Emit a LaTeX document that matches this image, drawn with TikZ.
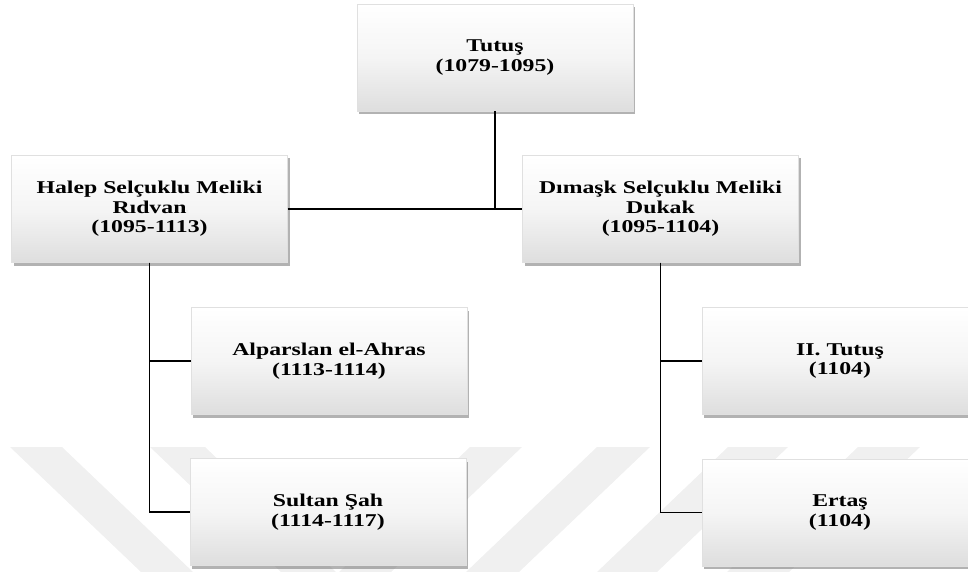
\documentclass[tikz,border=0pt]{standalone}
\usepackage{fontspec}
\setmainfont[FakeStretch=1.32]{Liberation Serif}
\usetikzlibrary{shadows}
\begin{document}
\begin{tikzpicture}[x=1pt,y=-1pt,
  box/.style={rectangle, minimum width=276pt, minimum height=107pt, inner sep=0pt,
    top color=white, bottom color=black!13, middle color=white!96!black,
    draw=black!12, line width=0.4pt,
    drop shadow={shadow xshift=2pt, shadow yshift=-3pt, fill=black!55, opacity=0.55},
    align=center, font=\bfseries\fontsize{18}{19.5}\selectfont},
  conn/.style={line width=1.6pt, draw=black},
  wm/.style={fill=black!6}]
\useasboundingbox (0,0) rectangle (968,572);
% watermark
\fill[wm] (10,447) -- (62,447) -- (193,572) -- (141,572) -- cycle;
\fill[wm] (150,447) -- (205,447) -- (336,572) -- (281,572) -- cycle;
\fill[wm] (470,447) -- (522,447) -- (391,572) -- (339,572) -- cycle;
\fill[wm] (597,447) -- (650,447) -- (519,572) -- (466,572) -- cycle;
\fill[wm] (728,447) -- (788,447) -- (657,572) -- (597,572) -- cycle;
\fill[wm] (858,447) -- (920,447) -- (789,572) -- (727,572) -- cycle;
% boxes
\node[box] (tutus) at (495,57.5) {Tutuş\\(1079-1095)};
\node[box] (halep) at (149.5,209) {Halep Selçuklu Meliki\\Rıdvan\\(1095-1113)};
\node[box] (dimask) at (660.5,209) {Dımaşk Selçuklu Meliki\\Dukak\\(1095-1104)};
\node[box] (alp) at (329,361) {Alparslan el-Ahras\\(1113-1114)};
\node[box] (sultan) at (328,512) {Sultan Şah\\(1114-1117)};
\node[box] (iitutus) at (840,361) {II. Tutuş\\(1104)};
\node[box] (ertas) at (840,512.5) {Ertaş\\(1104)};
% connectors
\draw[conn] (halep.east) -- (dimask.west);
\draw[conn] (tutus.south) -- (tutus.south |- halep.east);
\draw[conn] (halep.south) |- (alp.west);
\draw[conn] (halep.south) |- (sultan.west);
\draw[conn] (dimask.south) |- (iitutus.west);
\draw[conn] (dimask.south) |- (ertas.west);
\end{tikzpicture}
\end{document}
